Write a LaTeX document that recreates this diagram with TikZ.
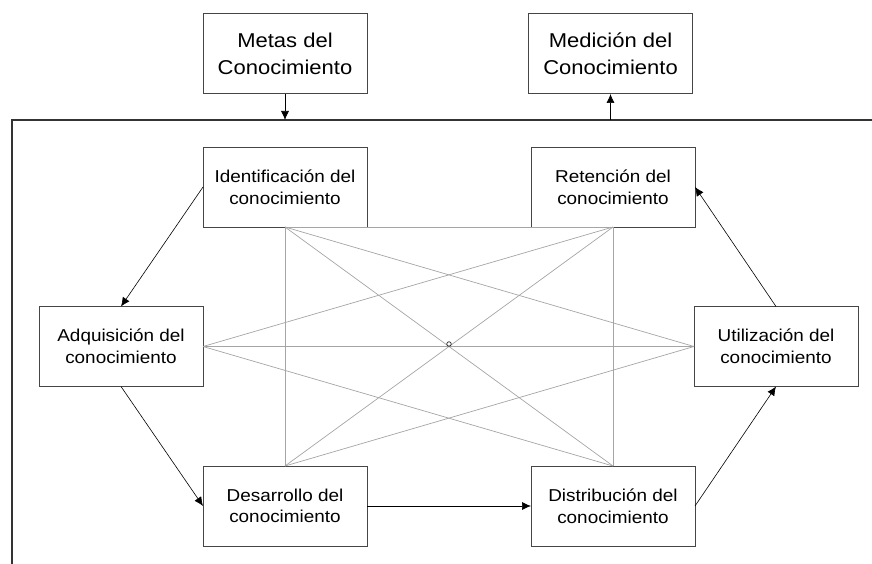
\documentclass[tikz,border=0pt]{standalone}
\usepackage{fontspec}
\setmainfont[FakeStretch=1.1]{Liberation Sans}
\usetikzlibrary{arrows.meta}
\definecolor{boxline}{RGB}{70,70,70}
\definecolor{grayline}{RGB}{165,165,165}
\begin{document}
\begin{tikzpicture}[x=1pt,y=-1pt,
  topbox/.style={draw=boxline,line width=1pt,minimum width=164pt,minimum height=80pt,inner sep=0pt,outer sep=0pt,align=center,font=\fontsize{20}{27}\selectfont},
  procbox/.style={draw=boxline,line width=0.9pt,minimum width=164pt,minimum height=80pt,inner sep=0pt,outer sep=0pt,align=center,font=\fontsize{17.2}{21.6}\selectfont},
  flow/.style={draw=black,line width=0.6pt,-{Latex[length=9pt,width=8pt]}},
  web/.style={draw=grayline,line width=0.7pt},
  frame/.style={draw=black!80,line width=1.2pt}]
\useasboundingbox (0,0) rectangle (872,564);
% top boxes
\node[topbox] (metas) at (285,54) {Metas del\\Conocimiento};
\node[topbox] (medic) at (610.5,54) {Medición del\\Conocimiento};
% frame
\coordinate (fl) at (12,564);
\coordinate (fc) at (12,120);
\coordinate (fr) at (872,120);
\draw[frame] (fl) -- (fc) -- (fr);
\coordinate (ma) at (metas.south |- fc);
\coordinate (mb) at (medic.south |- fc);
% process boxes
\node[procbox] (ident) at (285,187) {Identificación del\\conocimiento};
\node[procbox] (reten) at (613,187) {Retención del\\conocimiento};
\node[procbox] (adq) at (121,346.5) {Adquisición del\\conocimiento};
\node[procbox] (util) at (776,346.5) {Utilización del\\conocimiento};
\node[procbox] (desa) at (285,506) {Desarrollo del\\conocimiento};
\node[procbox] (dist) at (613,506) {Distribución del\\conocimiento};
% web of gray lines
\draw[web] (ident.south) -- (reten.south);
\draw[web] (ident.south) -- (desa.north);
\draw[web] (reten.south) -- (dist.north);
\draw[web] (ident.south) -- (dist.north);
\draw[web] (reten.south) -- (desa.north);
\draw[web] (adq.east) -- (util.west);
\draw[web] (adq.east) -- (reten.south);
\draw[web] (adq.east) -- (dist.north);
\draw[web] (util.west) -- (ident.south);
\draw[web] (util.west) -- (desa.north);
\node[draw=black!85,line width=0.7pt,circle,minimum size=4.5pt,inner sep=0pt] (hub) at (449,344) {};
% flow arrows
\draw[flow] (metas.south) -- (ma);
\draw[flow] (mb) -- (medic.south);
\draw[flow] (ident.west) -- (adq.north);
\draw[flow] (adq.south) -- (desa.west);
\draw[flow] (desa.east) -- (dist.west);
\draw[flow] (dist.east) -- (util.south);
\draw[flow] (util.north) -- (reten.east);
\end{tikzpicture}
\end{document}
